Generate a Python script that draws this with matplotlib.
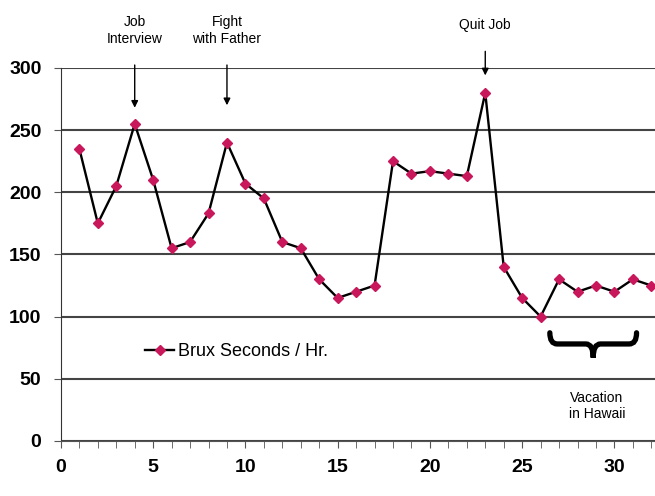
import matplotlib.pyplot as plt
import numpy as np
from matplotlib.path import Path
from matplotlib.patches import PathPatch

# data
days = list(range(1, 33))
brux = [235, 175, 205, 255, 210, 155, 160, 183, 240, 207,
        195, 160, 155, 130, 115, 120, 125, 225, 215, 217,
        215, 213, 280, 140, 115, 100, 130, 120, 125, 120,
        130, 125]
events = ["Job\nInterview", "Fight\nwith Father", "Quit Job"]
event_days = [4, 9, 23]

plt.rcParams['font.family'] = ['Liberation Sans', 'DejaVu Sans']

fig = plt.figure(figsize=(6.55, 4.96), dpi=100)
ax = fig.add_axes([0.093, 0.111, 0.907, 0.752])

ax.plot(days, brux, color='black', lw=1.7, marker='D', markersize=5,
        markerfacecolor='#c8175a', markeredgecolor='#c8175a',
        label='Brux Seconds / Hr.')

ax.set_xlim(0, 32.2)
ax.set_ylim(0, 300)
ax.set_yticks(np.arange(0, 301, 50))
ax.set_xticks(np.arange(0, 31, 5))
ax.set_xticks(np.arange(0, 33, 1), minor=True)
ax.yaxis.grid(True, color='#444444', lw=1.5)
ax.set_axisbelow(True)
for s in ['top', 'right']:
    ax.spines[s].set_visible(False)
ax.spines['left'].set_color('#333333')
ax.spines['bottom'].set_color('#555555')
ax.tick_params(axis='both', which='both', direction='out', length=5, color='#555555')
ax.tick_params(axis='x', which='major', pad=8)
ax.tick_params(axis='y', pad=9)
for lbl in ax.get_xticklabels() + ax.get_yticklabels():
    lbl.set_fontsize(14)
    lbl.set_fontweight('bold')

# event arrows
tips = [268, 270, 294]
text_y = [318, 318, 329]
for name, d, tip, ty in zip(events, event_days, tips, text_y):
    ax.annotate(name, xy=(d, tip), xytext=(d, ty), ha='center', va='bottom',
                fontsize=10, annotation_clip=False,
                arrowprops=dict(arrowstyle='-|>', color='black', lw=1,
                                shrinkA=12, shrinkB=0, mutation_scale=10))

# vacation brace
x0, x1 = 26.5, 31.2
xm = (x0 + x1) / 2
yt, ym, yb = 87, 78, 67
verts = [(x0, yt), (x0, ym), (x0 + 0.4, ym), (xm - 0.4, ym), (xm, ym), (xm, yb),
         (xm, ym), (xm + 0.4, ym), (x1 - 0.4, ym), (x1, ym), (x1, yt)]
codes = [Path.MOVETO, Path.CURVE3, Path.CURVE3, Path.LINETO, Path.CURVE3, Path.CURVE3,
         Path.CURVE3, Path.CURVE3, Path.LINETO, Path.CURVE3, Path.CURVE3]
ax.add_patch(PathPatch(Path(verts, codes), fill=False, lw=3.8, color='black',
                       capstyle='round'))
ax.text(29.05, 28, "Vacation\nin Hawaii", ha='center', va='center', fontsize=10)

ax.legend(loc='center left', bbox_to_anchor=(0.115, 0.24), frameon=False,
          fontsize=13, handlelength=1.6, handletextpad=0.2)

fig.savefig('out.png', dpi=100)
